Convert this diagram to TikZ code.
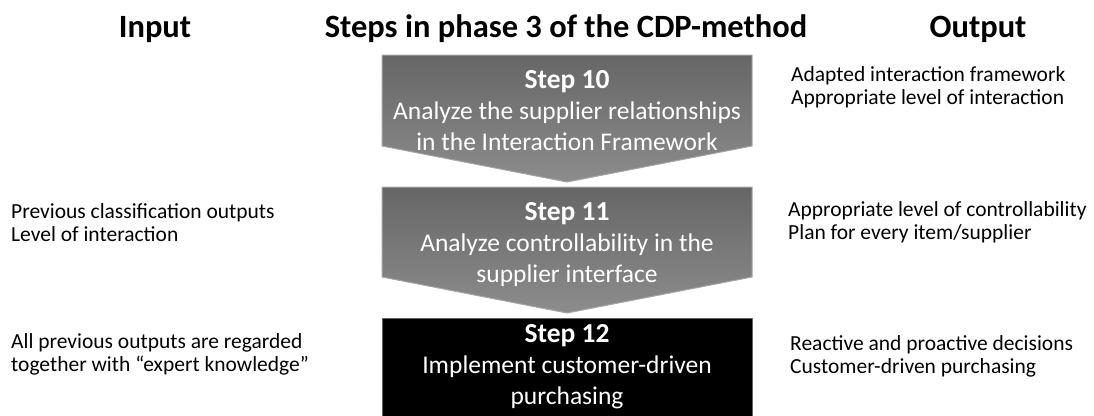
\documentclass[tikz,border=0pt]{standalone}
\usepackage{fontspec}
\setmainfont{Carlito}
\begin{document}
\begin{tikzpicture}[x=1pt,y=-1pt,line join=round,
	head/.style={anchor=base,inner sep=0pt,font=\fontsize{32.5}{36}\selectfont\bfseries},
	side/.style={anchor=north west,align=left,inner sep=0pt,font=\fontsize{21.5}{23}\selectfont},
	steptext/.style={anchor=north,align=center,inner sep=0pt,text=white,font=\fontsize{25.5}{31}\selectfont},
	chev/.style={top color=black!60,bottom color=black!45,draw=black!35,line width=1pt}]
	\useasboundingbox (0,0) rectangle (1094,415);
	% headings
	\node[head] (input) at (155,37) {Input};
	\node[head] (steps) at (566,37) {Steps in phase 3 of the CDP-method};
	\node[head] (output) at (978,37) {Output};
	% the three steps
	\draw[chev] (382,55)--(752,55)--(752,146)--(567,182)--(382,146)--cycle;
	\draw[chev] (382,187)--(752,187)--(752,277)--(567,313)--(382,277)--cycle;
	\draw[fill=black,draw=black!60,line width=1pt] (382,318) rectangle (752,416);
	\node[steptext] (step10) at (567,70) {{\fontsize{27.5}{31}\selectfont\bfseries Step 10}\\Analyze the supplier relationships\\in the Interaction Framework};
	\node[steptext] (step11) at (567,202) {{\fontsize{27.5}{31}\selectfont\bfseries Step 11}\\Analyze controllability in the\\supplier interface};
	\node[steptext] (step12) at (567,324) {{\fontsize{27.5}{30}\selectfont\bfseries Step 12}\\Implement customer-driven\\purchasing};
	% inputs
	\node[side] (in11) at (11,203) {Previous classification outputs\\Level of interaction};
	\node[side] (in12) at (11,333) {All previous outputs are regarded\\together with “expert knowledge”};
	% outputs
	\node[side] (out10) at (791,66) {Adapted interaction framework\\Appropriate level of interaction};
	\node[side] (out11) at (788,201) {Appropriate level of controllability\\Plan for every item/supplier};
	\node[side] (out12) at (790,335) {Reactive and proactive decisions\\Customer-driven purchasing};
\end{tikzpicture}
\end{document}
